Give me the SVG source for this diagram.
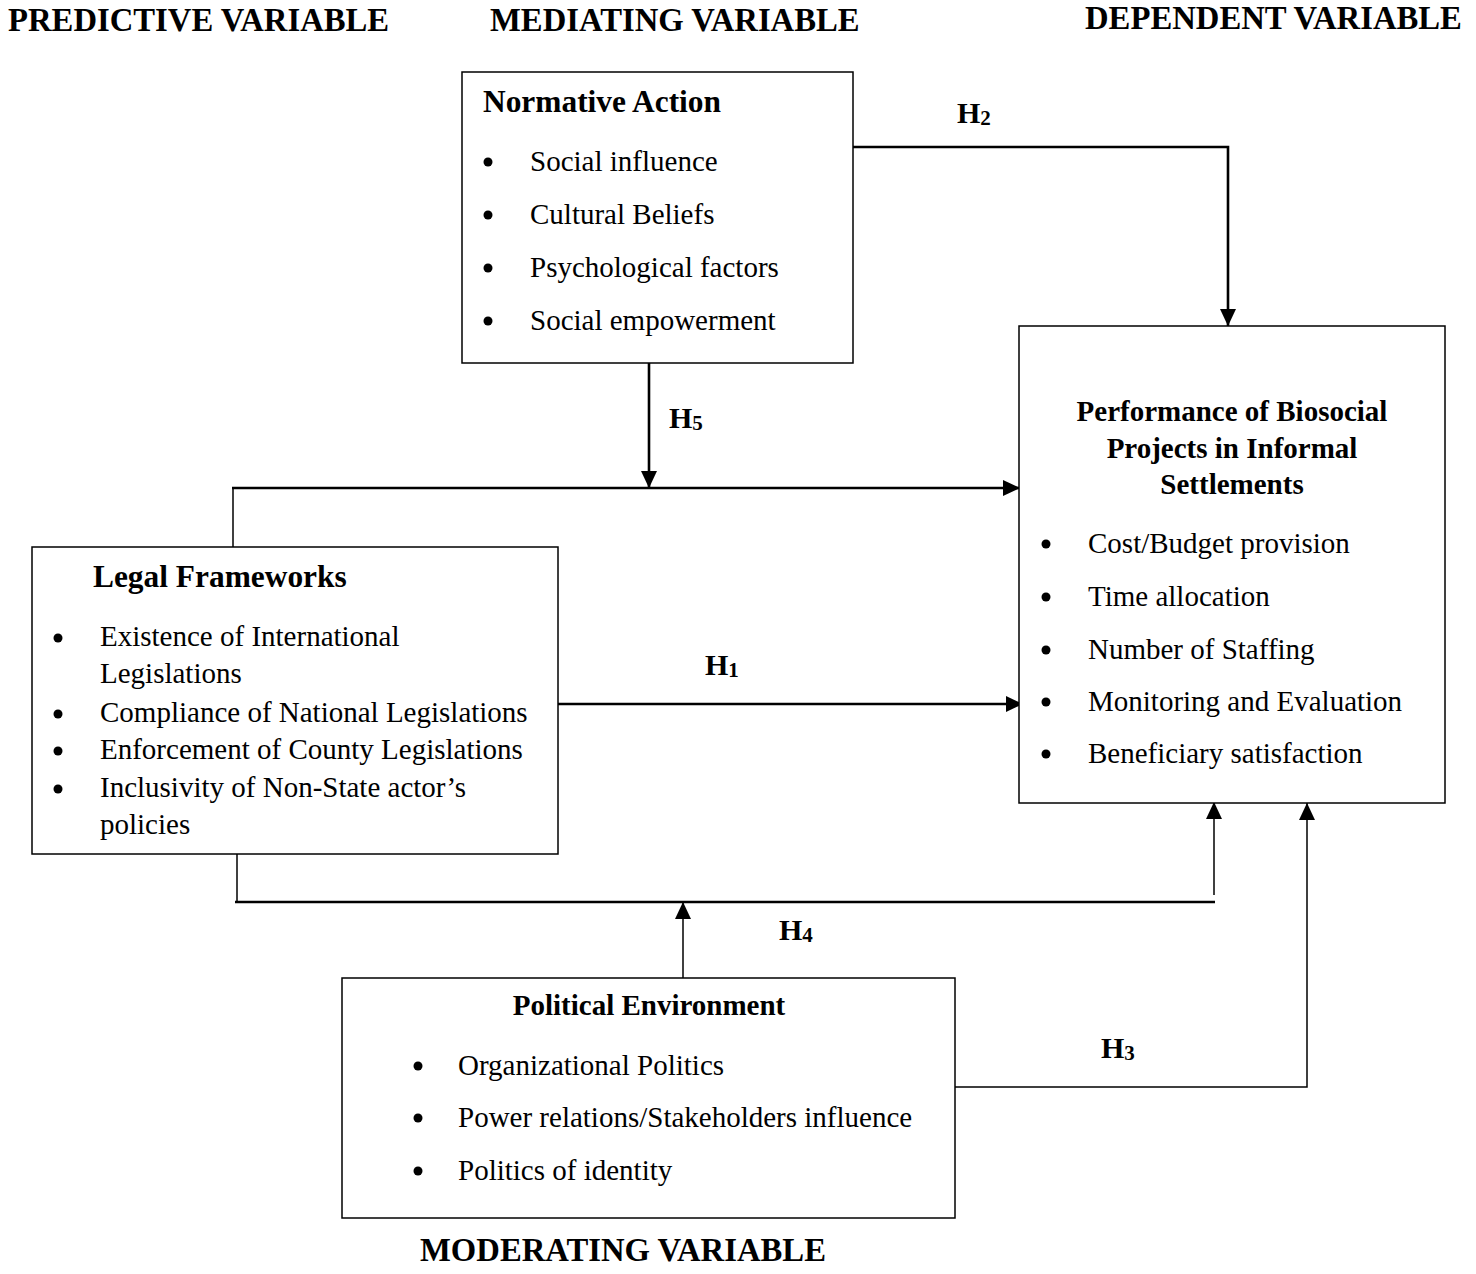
<svg xmlns="http://www.w3.org/2000/svg" width="1476" height="1274" viewBox="0 0 1476 1274">
<defs>
<style>
text{font-family:"Liberation Serif","Times New Roman",serif;fill:#000}
.hdr{font-size:32.7px;font-weight:bold}
.ttl{font-size:31.4px;font-weight:bold}
.ttl2{font-size:29px;font-weight:bold}
.b{font-size:29px}
.h{font-size:30px;font-weight:bold}
.sub{font-size:21px}
.box{fill:#fff;stroke:#000;stroke-width:1.5}
.c{fill:none;stroke:#000;stroke-width:2.6}
.t{fill:none;stroke:#000;stroke-width:1.5}
</style>
<marker id="ah" markerUnits="userSpaceOnUse" markerWidth="18" markerHeight="16" refX="17" refY="8" orient="auto">
<path d="M0,0 L17,8 L0,16 Z" fill="#000"/>
</marker>
</defs>
<rect width="1476" height="1274" fill="#fff"/>

<g id="headers">
<text class="hdr" x="8" y="31">PREDICTIVE VARIABLE</text>
<text class="hdr" x="490" y="31">MEDIATING VARIABLE</text>
<text class="hdr" x="1085" y="29">DEPENDENT VARIABLE</text>
<text class="hdr" x="420" y="1261">MODERATING VARIABLE</text>
</g>

<g id="connectors">
<polyline class="c" points="853,147 1228,147 1228,326" marker-end="url(#ah)"/>
<line class="c" x1="649" y1="363" x2="649" y2="488" marker-end="url(#ah)"/>
<line class="t" x1="233" y1="488" x2="233" y2="547"/>
<line class="c" x1="232" y1="488" x2="1020" y2="488" marker-end="url(#ah)"/>
<line class="c" x1="558" y1="704" x2="1023" y2="704" marker-end="url(#ah)"/>
<line class="t" x1="237" y1="854" x2="237" y2="902"/>
<line class="c" x1="235" y1="902" x2="1215" y2="902"/>
<line class="t" x1="1214" y1="895" x2="1214" y2="802" marker-end="url(#ah)"/>
<line class="t" x1="683" y1="978" x2="683" y2="902" marker-end="url(#ah)"/>
<polyline class="t" points="955,1087 1307,1087 1307,803" marker-end="url(#ah)"/>
<text class="h" x="957" y="123">H<tspan class="sub" dy="2">2</tspan></text>
<text class="h" x="669" y="428">H<tspan class="sub" dy="2">5</tspan></text>
<text class="h" x="705" y="675">H<tspan class="sub" dy="2">1</tspan></text>
<text class="h" x="779" y="940">H<tspan class="sub" dy="2">4</tspan></text>
<text class="h" x="1101" y="1058">H<tspan class="sub" dy="2">3</tspan></text>
</g>

<g id="normative">
<rect class="box" x="462" y="72" width="391" height="291"/>
<text class="ttl" x="483" y="112">Normative Action</text>
<circle cx="488" cy="162" r="4.5"/><text class="b" x="530" y="171">Social influence</text>
<circle cx="488" cy="215" r="4.5"/><text class="b" x="530" y="224">Cultural Beliefs</text>
<circle cx="488" cy="268" r="4.5"/><text class="b" x="530" y="277">Psychological factors</text>
<circle cx="488" cy="321" r="4.5"/><text class="b" x="530" y="330">Social empowerment</text>
</g>

<g id="performance">
<rect class="box" x="1019" y="326" width="426" height="477"/>
<text class="ttl2" x="1232" y="421" text-anchor="middle">Performance of Biosocial</text>
<text class="ttl2" x="1232" y="458" text-anchor="middle">Projects in Informal</text>
<text class="ttl2" x="1232" y="494" text-anchor="middle">Settlements</text>
<circle cx="1046" cy="544" r="4.5"/><text class="b" x="1088" y="553">Cost/Budget provision</text>
<circle cx="1046" cy="597" r="4.5"/><text class="b" x="1088" y="606">Time allocation</text>
<circle cx="1046" cy="650" r="4.5"/><text class="b" x="1088" y="659">Number of Staffing</text>
<circle cx="1046" cy="702" r="4.5"/><text class="b" x="1088" y="711">Monitoring and Evaluation</text>
<circle cx="1046" cy="754" r="4.5"/><text class="b" x="1088" y="763">Beneficiary satisfaction</text>
</g>

<g id="legal">
<rect class="box" x="32" y="547" width="526" height="307"/>
<text class="ttl" x="93" y="587">Legal Frameworks</text>
<circle cx="58" cy="638" r="4.5"/><text class="b" x="100" y="646">Existence of International</text>
<text class="b" x="100" y="683">Legislations</text>
<circle cx="58" cy="714" r="4.5"/><text class="b" x="100" y="722">Compliance of National Legislations</text>
<circle cx="58" cy="751" r="4.5"/><text class="b" x="100" y="759">Enforcement of County Legislations</text>
<circle cx="58" cy="789" r="4.5"/><text class="b" x="100" y="797">Inclusivity of Non-State actor’s</text>
<text class="b" x="100" y="834">policies</text>
</g>

<g id="political">
<rect class="box" x="342" y="978" width="613" height="240"/>
<text class="ttl2" x="649" y="1015" text-anchor="middle">Political Environment</text>
<circle cx="418" cy="1066" r="4.5"/><text class="b" x="458" y="1075">Organizational Politics</text>
<circle cx="418" cy="1118" r="4.5"/><text class="b" x="458" y="1127">Power relations/Stakeholders influence</text>
<circle cx="418" cy="1171" r="4.5"/><text class="b" x="458" y="1180">Politics of identity</text>
</g>
</svg>
